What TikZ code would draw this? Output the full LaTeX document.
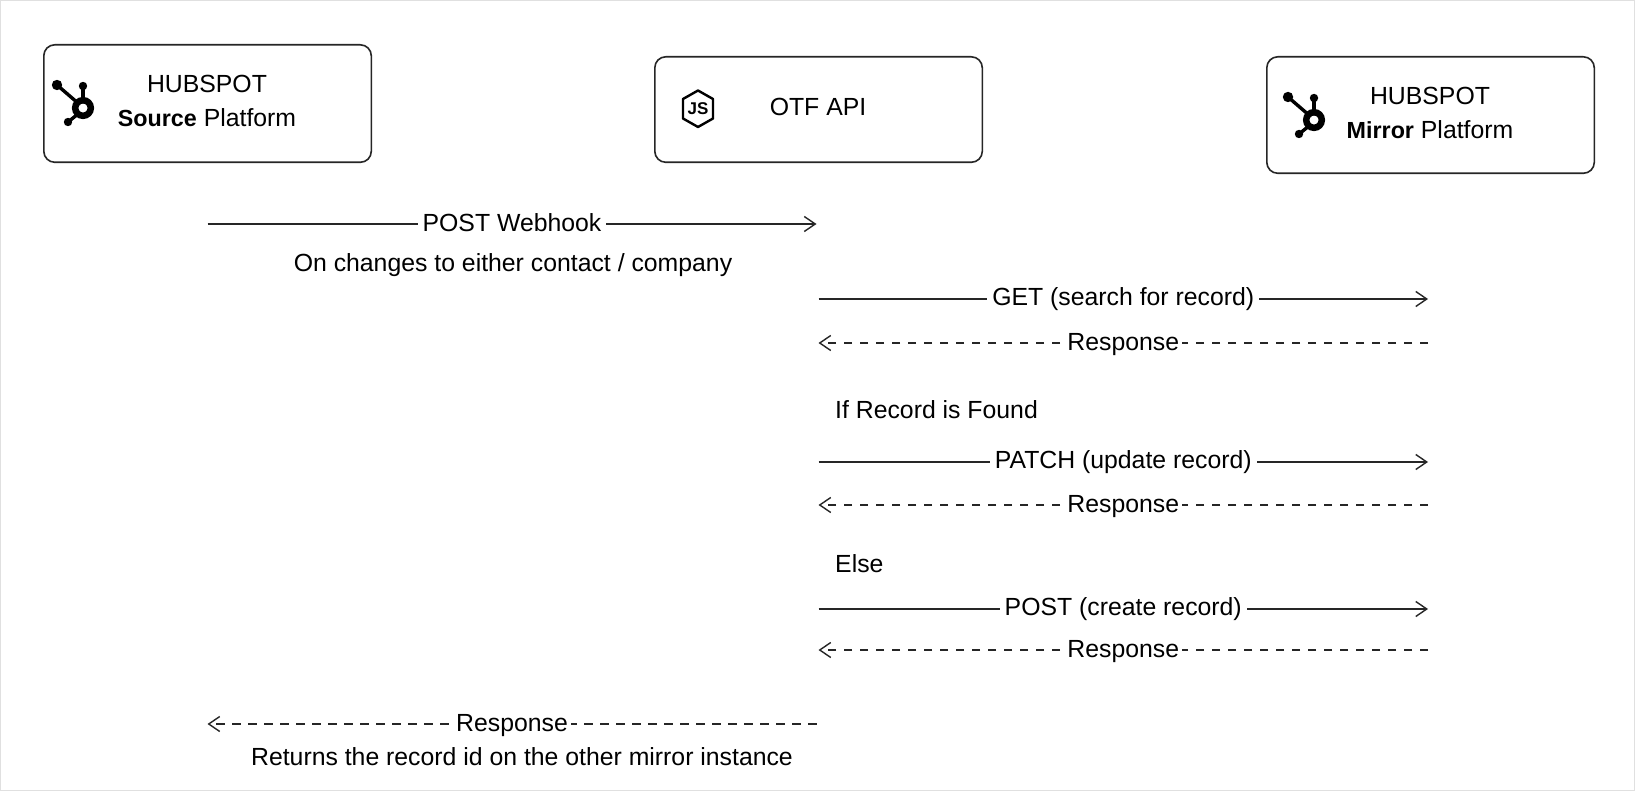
\documentclass[tikz,border=0pt]{standalone}
\usepackage{fontspec}
\setmainfont{Liberation Sans}
\usetikzlibrary{arrows.meta,calc}
\tikzset{
  x=1pt,y=-1pt,
  box/.style={draw=black!85,line width=1.6pt,rounded corners=11pt,fill=white,inner sep=0pt,anchor=north west},
  lab/.style={font=\fontsize{24.8}{30}\selectfont,text=black,inner sep=0pt},
  msg/.style={lab,fill=white,inner xsep=5pt,inner ysep=1pt},
  rsp/.style={lab,fill=white,inner xsep=3pt,inner ysep=1pt,yshift=-2pt},
  call/.style={draw=black!85,line width=1.5pt,-{Straight Barb[length=11pt,width=15pt,line width=1.4pt]}},
  back/.style={draw=black!85,line width=1.5pt,dash pattern=on 8.5pt off 7.5pt,-{Straight Barb[length=11pt,width=15pt,line width=1.4pt]}},
  ico/.style={black,line width=3.4pt,line cap=round},
}
\newcommand{\hubicon}[2]{%
  \begin{scope}[shift={(#1,#2)}]
    \draw[ico] (-4,-4) -- (-26,-23);
    \draw[ico] (0,-6) -- (0,-22);
    \draw[ico] (-5,6) -- (-15,14);
    \fill (-26,-23) circle (5.2pt);
    \fill (0,-22) circle (4.2pt);
    \fill (-15,14) circle (4.2pt);
    \draw[black,line width=6.5pt] (0,0) circle (7.8pt);
  \end{scope}}
\newcommand{\bfw}[1]{{\fontsize{23.3}{30}\selectfont\textbf{#1}}}
\begin{document}
\begin{tikzpicture}
\useasboundingbox (0,0) rectangle (1635,791);
\fill[white] (0,0) rectangle (1635,791);
\draw[black!12,line width=1pt] (.5,.5) rectangle (1634.5,790.5);
\node[box,minimum width=327.5pt,minimum height=117.5pt] (src) at (43,44) {};
\node[box,minimum width=327.5pt,minimum height=105.5pt] (otf) at (654,56) {};
\node[box,minimum width=327.5pt,minimum height=116.5pt] (mir) at (1266,56) {};
\hubicon{83}{108}
\hubicon{1314}{120}
\node[lab] (srcA) at (207,84) {HUBSPOT};
\node[lab] (srcB) at (207,118) {\bfw{Source} Platform};
\node[lab] (otfA) at (818,107) {OTF API};
\node[lab] (mirA) at (1430,96) {HUBSPOT};
\node[lab] (mirB) at (1430,130) {\bfw{Mirror} Platform};
% js icon
\draw[black,line width=2.4pt,line join=round] (698,90.5) -- (713,99) -- (713,118.5) -- (698,127) -- (683,118.5) -- (683,99) -- cycle;
\node[font=\fontsize{17}{17}\selectfont\bfseries,inner sep=0pt] (js) at (698,109) {JS};
% ends
\foreach \n/\y in {a/224,b/299,c/343,d/462,e/505,f/609,g/650,h/724}{
  \coordinate (s\n) at (207.5,\y);
  \coordinate (o\n) at (818.5,\y);
  \coordinate (m\n) at (1428,\y);
}
\coordinate (oa) at (816.5,224);
\coordinate (oh) at (816.5,724);
\draw[call] (sa) -- node[msg,yshift=1pt] (la) {POST Webhook} (oa);
\draw[call] (ob) -- node[msg] (lb) {GET (search for record)} (mb);
\draw[back] (mc) -- node[rsp] (lc) {Response} (oc);
\draw[call] (od) -- node[msg] (ld) {PATCH (update record)} (md);
\draw[back] (me) -- node[rsp] (le) {Response} (oe);
\draw[call] (of) -- node[msg] (lf) {POST (create record)} (mf);
\draw[back] (mg) -- node[rsp] (lg) {Response} (og);
\draw[back] (oh) -- node[rsp] (lh) {Response} (sh);
\node[lab] (n1) at (513,265) {On changes to either contact / company};
\node[lab,anchor=west] (n2) at (835,410) {If Record is Found};
\node[lab,anchor=west] (n3) at (835,564) {Else};
\node[lab] (n4) at (522,757) {Returns the record id on the other mirror instance};
\end{tikzpicture}
\end{document}
